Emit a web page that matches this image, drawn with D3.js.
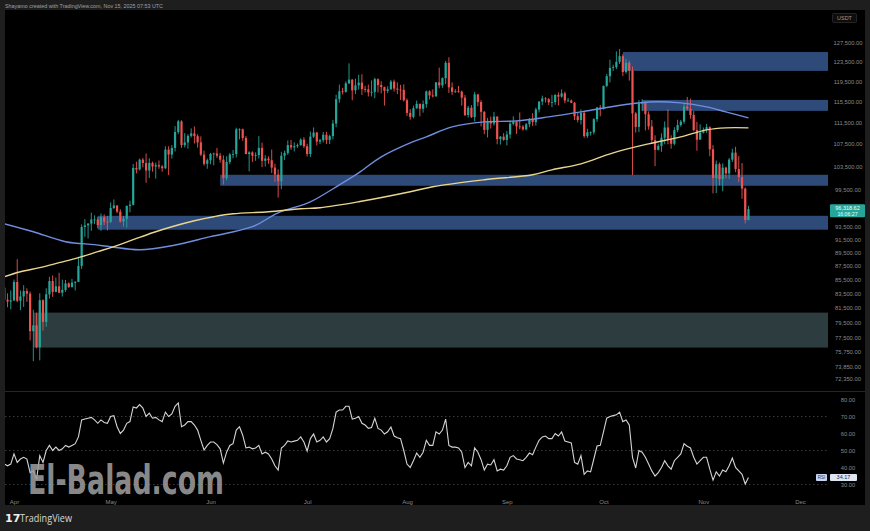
<!DOCTYPE html>
<html><head><meta charset="utf-8">
<script src="https://cdn.jsdelivr.net/npm/d3@7"></script>
<style>html,body{margin:0;padding:0;background:#1e1e1e;}svg{display:block}</style>
</head><body><svg id="c" width="870" height="531"></svg>
<script>
// ---------- DATA ----------
const startDate = "2025-03-29";           // first daily candle
const firstOpen = 84350;
const closes = [
82650,82390,82550,
85160,82500,83100,83860,83500,78370,79140,76270,82580,79600,83400,85290,83740,84540,83630,84030,84950,84450,85060,85170,87500,93440,93700,93980,94640,94640,93750,94980,94280,94200,
96490,96900,95900,94310,94750,96830,97030,103240,102970,104700,104120,102800,104130,103500,103730,103500,103200,106500,105600,106800,109700,111700,107300,107800,109000,109450,108950,107800,105600,103970,104600,
105700,105800,105400,104700,101500,104300,105600,105700,110200,110200,108600,105700,106000,105400,105500,106800,104500,104900,104600,103300,102100,100950,105400,105900,107300,106900,107100,107300,108300,107100,
105700,108850,109600,107950,108200,109200,108250,108950,111300,115950,117500,117400,119100,119850,117700,118700,119250,117950,117900,117300,117400,119950,118750,118350,117600,117900,119450,118050,117850,117800,115750,
113300,112550,114200,115050,114100,115000,117500,116700,116500,119300,118700,120150,123300,118300,117400,117500,117450,116250,112900,114300,112500,116900,115400,113500,110100,111800,111300,112600,108400,108850,108250,
109250,111250,111700,110750,110700,110200,111150,112100,111550,113950,115500,116100,115950,115350,115400,116800,116450,117100,115700,115700,115250,112650,111950,113300,108950,109650,109650,112100,114350,114050,
118600,120550,122250,122400,123500,124700,121400,123300,121700,113200,110650,115100,115250,113050,110750,108200,106450,107150,108650,110550,108450,107550,110050,111000,111650,114550,114100,112900,110050,108300,109600,
110100,110600,106550,101500,103900,101300,103300,102300,104700,105950,103050,101650,99700,94550,96300];
const highs = [
84570,83550,83950,
85500,88500,83950,84700,84250,83800,81250,80850,83550,82700,84250,85900,86100,85800,86500,85500,85450,85100,85600,85300,88850,93850,94700,94050,95750,95300,95050,95600,95450,95200,
97400,97900,96950,96300,95200,96900,97700,103950,104350,104900,105000,105800,104950,104350,104200,104550,103750,107100,107100,107300,110800,111950,111900,109500,109300,110400,110750,109300,108900,106300,104900,
105900,105950,106800,105900,105450,105300,105900,106450,110500,110400,110350,108950,106200,106200,106000,108950,107750,105500,105300,106500,104000,103000,106100,106300,108150,108250,107800,107600,108550,108750,
107550,109800,110550,109750,108450,109700,109750,109200,111950,116850,118850,118200,119500,123200,119950,120050,120850,120950,118600,118850,119700,120250,120100,119550,118450,118500,119800,119850,119300,118800,118900,
116100,114000,114700,115700,115100,115700,117650,117700,117900,119350,122300,120300,123700,124450,119300,117950,118600,117650,116800,114650,114800,117400,117000,115750,113650,112350,112600,113500,112650,108950,109500,
109900,111800,112650,111800,113400,111000,111400,112350,113250,114300,115550,116650,116350,116150,116800,116950,117300,117900,117450,116200,115900,115400,113400,114000,113600,110300,109800,112300,114450,114850,
118650,121000,123950,122900,125700,126200,125100,124150,123750,122550,113450,115800,115950,115500,113600,111950,109100,107550,109450,111700,114000,109100,110600,112000,111950,115000,116400,116050,113650,111600,111150,
110550,111200,110750,107300,104550,104200,104050,103450,105000,106650,107000,105350,104100,99900,96850];
const lows = [
81650,81600,81300,
82450,82300,81200,81650,82350,77150,74500,76150,74600,78450,78950,82800,83050,83700,83600,83100,83750,84300,84350,83950,85150,87050,91900,91650,92850,93900,93250,92850,93750,92900,
94150,96300,95650,94150,93500,93350,95800,96900,102300,102800,103350,100700,101500,102600,101400,103100,102600,103050,102000,104900,106150,109300,106800,106900,106650,108700,107600,106850,105350,103650,103100,
103900,103700,105000,104150,100400,101100,103900,104950,105100,108350,108100,105650,102650,104300,104500,104900,103400,103500,103950,102350,100850,98200,99600,104650,105550,106450,106150,106800,107200,106750,
105250,105150,108600,107250,107500,107800,107500,107500,108350,110600,115250,116900,117250,118950,115750,116950,117850,116800,117300,116500,116500,116150,117300,117100,114700,117150,117850,117450,116950,115800,115500,
112700,112000,112250,114100,112650,113350,114300,115900,116300,116500,118100,118200,118950,117200,116800,117200,117250,114700,112700,112400,112350,111700,114600,110750,109300,108700,110350,110900,107450,107400,108100,
107250,108500,110950,109350,110200,109950,110000,110600,110800,110900,113400,114800,115300,114800,114400,114850,114750,116250,115150,115450,115200,111950,111500,111100,108650,108600,109050,109250,111600,112650,
113950,118350,119300,121600,122000,123050,120600,121050,119650,102000,109600,109700,113700,110000,110150,107500,103550,106350,106100,107450,107450,106650,107250,109650,110700,111250,113800,112200,109850,106300,108650,
109450,109550,105300,98900,98950,100250,99250,101450,101350,104300,102500,100800,98000,94000,94500];
const rsiValues = [
42,41,42,
48,43,45,46,45,37,38,33,47,43,50,53,50,52,50,51,53,52,53,54,58,68,68.5,69,69.5,68,66,68,66.5,66,
70,70.5,64,60,62,66,67,75.6,75,77,75,70,72,69,69.5,68,67,72.6,70,71.5,76,78,64,65,67,67,65,62,56,50.3,53,
55,55,53.5,51,42.6,49,53,54,62,64,59,51.5,52,51,51.5,53,48,49,48,45,41,38.5,51.5,53,55.6,55,55.5,56,58,55,
49.7,57,59.7,55,56,58,55,57,63,72.6,73.8,73.8,76,76,68.5,69,70,66,65,63,63.5,69,63,62,59.7,61,63.8,58.5,57.5,57,50,
42,40,44,48.5,46,49,56,53,53,61,59.7,62,68.5,53,52,52,51.5,49,40,43,41,51.5,49,44.6,38.5,42,41.5,44.6,38,39,38.5,
41,46,47,45,44.6,44,46,48.5,47.5,52,56,58,58.5,57,57,60,58.5,61,55.6,55,54.4,43,42,47,36,38,37.4,45,52.6,53,
61,69,70,70.5,71,72.6,67,68,65,46,39.7,50,49,46,42,38,35,37,40,44,41,39,44,46,48,54,52.5,51.5,46,42,44,
46,46,39,32.6,37.4,35,38.5,37.5,41,45.5,40,38,36,30.3,34.17];
const blueMaDates = ["2025-03-29","2025-04-07","2025-04-17","2025-04-26","2025-05-01","2025-05-10","2025-05-20","2025-06-01","2025-06-14","2025-06-22","2025-07-02","2025-07-11","2025-07-17","2025-07-24","2025-08-02","2025-08-07","2025-08-15","2025-08-25","2025-09-04","2025-09-14","2025-09-24","2025-10-03","2025-10-15","2025-10-25","2025-11-02","2025-11-08","2025-11-15"];
const blueMaValues = [93960,92700,91150,90700,90390,89930,90540,91930,93490,95700,97510,100350,102400,105200,107710,108810,110660,111600,111780,112540,113490,114450,115420,115230,114450,113490,112350];
const yellowMaDates = ["2025-03-29","2025-04-03","2025-04-09","2025-04-15","2025-04-21","2025-04-27","2025-05-02","2025-05-08","2025-05-14","2025-05-20","2025-05-27","2025-06-02","2025-06-08","2025-06-19","2025-06-29","2025-07-05","2025-07-17","2025-08-02","2025-08-09","2025-08-25","2025-09-09","2025-09-15","2025-09-24","2025-10-04","2025-10-15","2025-10-25","2025-11-02","2025-11-08","2025-11-15"];
const yellowMaValues = [85930,86650,87240,87980,88730,89630,90390,91460,92540,93490,94440,95080,95550,95880,96370,96530,97510,99170,100020,101200,102060,102920,103970,105920,107530,108810,110100,110480,110480];
const zoneStarts  = ["2025-10-07","2025-10-13","2025-06-04","2025-04-27","2025-04-07"];
const zoneTops    = [125580,115810,102060,95230,80865];
const zoneBottoms = [121630,113690,100180,93020,76225];
const zoneKinds   = ["supply","supply","supply","supply","demand"];
const priceTicks = [127500,123500,119500,115500,111500,107500,103500,99500,93500,91500,89500,87500,85500,83500,81500,79500,77500,75750,73850,72350];
const rsiTicks = [80,70,60,50,40,30];
const rsiBands = [70,50,30];
const monthTicks = ["2025-04-01","2025-05-01","2025-06-01","2025-07-01","2025-08-01","2025-09-01","2025-10-01","2025-11-01","2025-12-01"];
const lastPriceText = ["96,318.62","16:06:27"];
const lastRsi = 34.17;

// ---------- DRAWING ----------
const parse = d3.utcParse("%Y-%m-%d");
const svg = d3.select("#c");
const W = 870, H = 531;
const paneL = 5, paneR = 828, priceTop = 10, priceBot = 391, rsiTop = 392, rsiBot = 490;

svg.append("rect").attr("width", W).attr("height", H).attr("fill", "#1e1e1e");
svg.append("rect").attr("x", 5).attr("y", 10).attr("width", 860).attr("height", 495).attr("fill", "#000");

const x = d3.scaleUtc().domain([parse("2025-04-01"), parse("2025-12-01")]).range([14, 800]);
const y = d3.scaleLog().domain([72350, 127500]).range([378.5, 43]);
const yr = d3.scaleLinear().domain([30, 80]).range([484.5, 399.5]);

const defs = svg.append("defs");
defs.append("clipPath").attr("id", "cp").append("rect").attr("x", paneL).attr("y", priceTop).attr("width", paneR - paneL).attr("height", priceBot - priceTop);
defs.append("clipPath").attr("id", "cr").append("rect").attr("x", paneL).attr("y", rsiTop).attr("width", paneR - paneL).attr("height", rsiBot - rsiTop);

const s0 = parse(startDate);
const dates = closes.map((_, i) => d3.utcDay.offset(s0, i));
const opens = closes.map((c, i) => i === 0 ? firstOpen : closes[i - 1]);

// zones
const gp = svg.append("g").attr("clip-path", "url(#cp)");
zoneStarts.forEach((s, i) => {
  const y1 = y(zoneTops[i]), y2 = y(zoneBottoms[i]);
  gp.append("rect").attr("x", x(parse(s))).attr("y", y1)
    .attr("width", paneR - x(parse(s))).attr("height", y2 - y1)
    .attr("fill", zoneKinds[i] === "supply" ? "#2d4a78" : "#2c3c3f");
});

// candles
const up = "#26a69a", dn = "#ef5350";
const gc = gp.append("g");
closes.forEach((c, i) => {
  const o = opens[i], cx = x(dates[i]);
  const col = c >= o ? up : dn;
  const hi = Math.max(highs[i], o, c), lo = Math.min(lows[i], o, c);
  gc.append("line").attr("x1", cx).attr("x2", cx).attr("y1", y(hi)).attr("y2", y(lo))
    .attr("stroke", col).attr("stroke-width", 0.9);
  const yt = y(Math.max(o, c)), yb = y(Math.min(o, c));
  gc.append("rect").attr("x", cx - 1.1).attr("width", 2.2).attr("y", yt)
    .attr("height", Math.max(0.8, yb - yt)).attr("fill", col);
});

// moving averages
const maLine = d3.line().x(d => x(parse(d[0]))).y(d => y(d[1])).curve(d3.curveCatmullRom);
gp.append("path").attr("d", maLine(blueMaDates.map((d, i) => [d, blueMaValues[i]])))
  .attr("fill", "none").attr("stroke", "#6f8ee0").attr("stroke-width", 1.4);
gp.append("path").attr("d", maLine(yellowMaDates.map((d, i) => [d, yellowMaValues[i]])))
  .attr("fill", "none").attr("stroke", "#e8d690").attr("stroke-width", 1.4);

// pane separator
svg.append("line").attr("x1", paneL).attr("x2", 865).attr("y1", 391.5).attr("y2", 391.5).attr("stroke", "#262626").attr("stroke-width", 1);

// RSI pane
const gr = svg.append("g").attr("clip-path", "url(#cr)");
rsiBands.forEach(b => {
  gr.append("line").attr("x1", paneL).attr("x2", paneR).attr("y1", yr(b)).attr("y2", yr(b))
    .attr("stroke", "#4a4a4a").attr("stroke-width", 0.8).attr("stroke-dasharray", "1.5,2.5");
});
const rsiLine = d3.line().x((d, i) => x(dates[i])).y(d => yr(d));
gr.append("path").attr("d", rsiLine(rsiValues)).attr("fill", "none").attr("stroke", "#d4d4d4").attr("stroke-width", 1.1);

// price axis
const fontF = "'Liberation Sans', Arial, sans-serif";
const ax = svg.append("g").attr("transform", "translate(848,0)")
  .call(d3.axisRight(y).tickValues(priceTicks).tickFormat(d3.format(",.2f")).tickSize(0));
ax.select(".domain").remove();
ax.selectAll("text").attr("x", 0).attr("text-anchor", "middle").attr("fill", "#8a8a8a")
  .style("font-size", "5.8px").style("font-family", fontF);

const axr = svg.append("g").attr("transform", "translate(848,0)")
  .call(d3.axisRight(yr).tickValues(rsiTicks).tickFormat(d3.format(".2f")).tickSize(0));
axr.select(".domain").remove();
axr.selectAll("text").attr("x", 0).attr("text-anchor", "middle").attr("fill", "#8a8a8a")
  .style("font-size", "5.8px").style("font-family", fontF);

// time axis
const axx = svg.append("g").attr("transform", "translate(0,497)")
  .call(d3.axisBottom(x).tickValues(monthTicks.map(parse)).tickFormat(d3.utcFormat("%b")).tickSize(0));
axx.select(".domain").remove();
axx.selectAll("text").attr("fill", "#8a8a8a").style("font-size", "6px").style("font-family", fontF);

// USDT box
svg.append("rect").attr("x", 832.5).attr("y", 13.5).attr("width", 24).attr("height", 9).attr("fill", "#0d0d0d").attr("stroke", "#2c2c2c").attr("stroke-width", 0.8).attr("rx", 1);
svg.append("text").attr("x", 844.5).attr("y", 20).attr("text-anchor", "middle").attr("fill", "#9a9a9a")
  .style("font-size", "5.5px").style("font-family", fontF).text("USDT");

// last price label
const lastY = y(closes[closes.length - 1]);
svg.append("rect").attr("x", 830).attr("y", lastY - 5).attr("width", 35).attr("height", 13).attr("fill", up).attr("rx", 1);
svg.append("text").attr("x", 847.5).attr("y", lastY + 0.8).attr("text-anchor", "middle").attr("fill", "#e8fffb")
  .style("font-size", "5.5px").style("font-family", fontF).text(lastPriceText[0]);
svg.append("text").attr("x", 847.5).attr("y", lastY + 6.5).attr("text-anchor", "middle").attr("fill", "#e8fffb")
  .style("font-size", "5.2px").style("font-family", fontF).text(lastPriceText[1]);

// last RSI label
const ry = yr(lastRsi);
svg.append("rect").attr("x", 816).attr("y", ry - 3.5).attr("width", 11).attr("height", 7).attr("fill", "#c9d4ee").attr("rx", 1);
svg.append("text").attr("x", 821.5).attr("y", ry + 1.8).attr("text-anchor", "middle").attr("fill", "#20304f")
  .style("font-size", "4.5px").style("font-family", fontF).text("RSI");
svg.append("rect").attr("x", 830).attr("y", ry - 3.5).attr("width", 27).attr("height", 7).attr("fill", "#dde4f2").attr("rx", 1);
svg.append("text").attr("x", 843.5).attr("y", ry + 2).attr("text-anchor", "middle").attr("fill", "#1c2a44")
  .style("font-size", "5.5px").style("font-family", fontF).text(lastRsi.toFixed(2));

// header text
svg.append("text").attr("x", 5).attr("y", 7.5).attr("fill", "#a0a0a0")
  .attr("textLength", 158).attr("lengthAdjust", "spacingAndGlyphs")
  .style("font-size", "5.4px").style("font-family", fontF)
  .text("Shayamo created with TradingView.com, Nov 15, 2025 07:53 UTC");

// footer logo
svg.append("text").attr("x", 5).attr("y", 522).attr("fill", "#f0f0f0")
  .style("font-size", "11px").style("font-weight", "900").style("font-family", "'DejaVu Sans', sans-serif").text("17");
svg.append("text").attr("x", 20).attr("y", 521.5).attr("fill", "#d8d8d8")
  .attr("textLength", 52).attr("lengthAdjust", "spacingAndGlyphs")
  .style("font-size", "10px").style("font-family", "'Open Sans', sans-serif").text("TradingView");

// watermark
svg.append("text").attr("x", 28).attr("y", 494).attr("fill", "#9c9c9c").attr("fill-opacity", 0.9)
  .attr("textLength", 196).attr("lengthAdjust", "spacingAndGlyphs")
  .style("font-size", "40px").style("font-weight", "bold")
  .style("font-family", "'DejaVu Sans Condensed', 'Liberation Sans Narrow', sans-serif")
  .text("El-Balad.com");
</script></body></html>
